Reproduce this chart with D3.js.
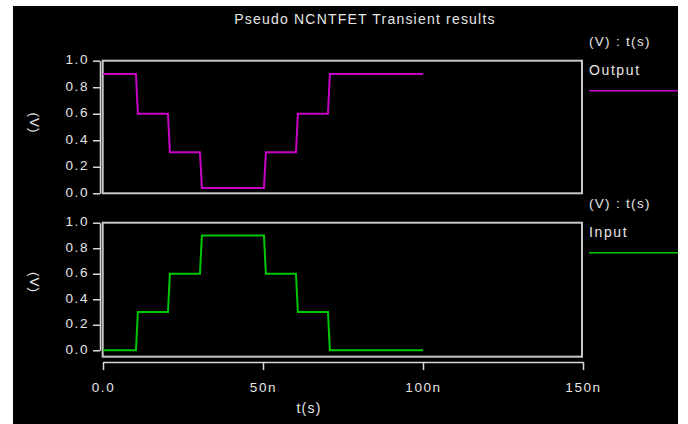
<!DOCTYPE html>
<html>
<head>
<meta charset="utf-8">
<script src="https://cdn.jsdelivr.net/npm/d3@7"></script>
<style>
body { margin: 0; background: #fff; }
text { font-family: "Liberation Sans", Arial, sans-serif; fill: #e6e6e6; }
.axis path, .axis line { stroke: #d8d8d8; stroke-width: 1.5; }
.axis text { font-size: 13.5px; letter-spacing: 1.6px; fill: #e6e6e6; }
.frame { fill: none; stroke: #c8c8c8; stroke-width: 2; }
</style>
</head>
<body>
<script>
// waveform samples (time in ns, volts)
var timeNs = [0, 10.3, 10.9, 20.3, 20.9, 30.3, 30.9, 50.3, 50.9, 60.3, 60.9, 70.3, 70.9, 100];
var outputV = [0.9, 0.9, 0.6, 0.6, 0.31, 0.31, 0.04, 0.04, 0.31, 0.31, 0.6, 0.6, 0.9, 0.9];
var inputV = [0, 0, 0.3, 0.3, 0.6, 0.6, 0.9, 0.9, 0.6, 0.6, 0.3, 0.3, 0, 0];

var yTicks = [0, 0.2, 0.4, 0.6, 0.8, 1.0];
var xTicks = [0, 50, 100, 150];
var xTickLabels = ["0.0", "50n", "100n", "150n"];

var W = 688, H = 424;

var svg = d3.select("body").append("svg")
	.attr("width", W)
	.attr("height", H);

// black plot window
svg.append("rect")
	.attr("x", 13).attr("y", 6)
	.attr("width", 665).attr("height", H - 6)
	.attr("fill", "#000");

var x = d3.scaleLinear().domain([0, 150]).range([103, 583]);

var panels = [
	{ name: "Output", values: outputV, colour: "#c800c8",
	  y: d3.scaleLinear().domain([0, 1]).range([193.3, 60.7]), bottom: 0 },
	{ name: "Input", values: inputV, colour: "#00c800",
	  y: d3.scaleLinear().domain([0, 1]).range([350.3, 222.7]), bottom: -0.05 }
];

svg.append("text")
	.attr("x", 365)
	.attr("y", 24)
	.attr("text-anchor", "middle")
	.style("font-size", "14px")
	.style("letter-spacing", "1.2px")
	.text("Pseudo NCNTFET Transient results");

panels.forEach(function (p) {
	var top = p.y(1), bot = p.y(p.bottom);

	svg.append("rect")
		.attr("class", "frame")
		.attr("x", 102.7).attr("y", top)
		.attr("width", 582 - 102.7).attr("height", bot - top);

	var yAxis = d3.axisLeft(p.y)
		.tickValues(yTicks)
		.tickFormat(d3.format(".1f"))
		.tickSize(7)
		.tickSizeOuter(0);

	var g = svg.append("g")
		.attr("class", "axis")
		.attr("transform", "translate(100,0)")
		.call(yAxis);
	g.selectAll("text").attr("x", -11).attr("dy", "0.22em");

	svg.append("text")
		.attr("text-anchor", "middle")
		.attr("transform", "translate(30," + ((top + p.y(0)) / 2 - 4) + ") rotate(90)")
		.style("font-size", "13.5px")
		.style("letter-spacing", "1px")
		.text("(V)");

	var line = d3.line()
		.x(function (d, i) { return x(timeNs[i]); })
		.y(function (d) { return p.y(d); });

	svg.append("path")
		.attr("d", line(p.values))
		.attr("fill", "none")
		.attr("stroke", p.colour)
		.attr("stroke-width", 2);

	// legend
	svg.append("text")
		.attr("x", 589).attr("y", top - 15)
		.style("font-size", "13.5px")
		.style("letter-spacing", "1.3px")
		.text("(V) : t(s)");
	svg.append("text")
		.attr("x", 589).attr("y", top + 14.5)
		.style("font-size", "14px")
		.style("letter-spacing", "1.6px")
		.text(p.name);
	svg.append("line")
		.attr("x1", 589).attr("x2", 678)
		.attr("y1", top + 30).attr("y2", top + 30)
		.attr("stroke", p.colour)
		.attr("stroke-width", 1.5);
});

var xAxis = d3.axisBottom(x)
	.tickValues(xTicks)
	.tickFormat(function (d, i) { return xTickLabels[i]; })
	.tickSize(8)
	.tickSizeOuter(0);

var xg = svg.append("g")
	.attr("class", "axis")
	.attr("transform", "translate(0,362)")
	.call(xAxis);
xg.selectAll("text").attr("y", 20);

svg.append("text")
	.attr("x", 309).attr("y", 413)
	.attr("text-anchor", "middle")
	.style("font-size", "14px")
	.style("letter-spacing", "1.2px")
	.text("t(s)");
</script>
</body>
</html>
